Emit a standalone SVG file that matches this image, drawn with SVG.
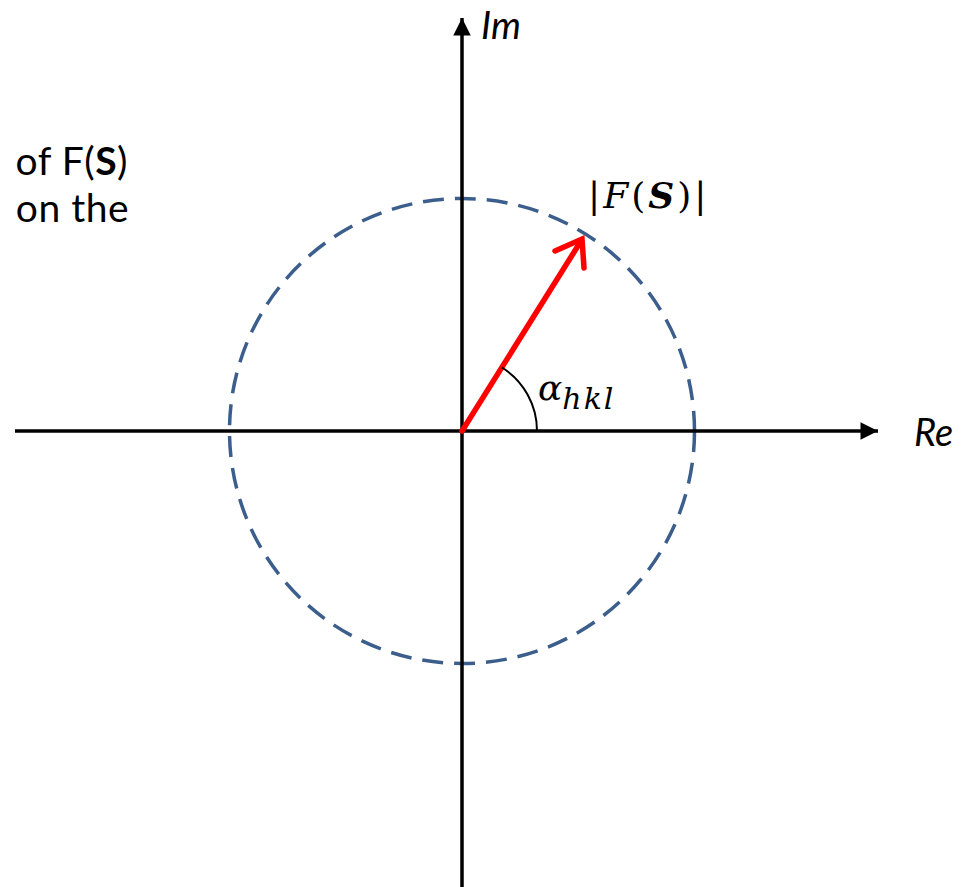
<svg xmlns="http://www.w3.org/2000/svg" width="967" height="887" viewBox="0 0 967 887">
<style>
.ax{stroke:#000;stroke-width:3.5;fill:none}
.lbl{font-family:Lato,"Open Sans","Liberation Sans",sans-serif;fill:#000}
.math{font-family:"DejaVu Serif","Liberation Serif",serif;fill:#000}
</style>
<defs>
<marker id="ah" viewBox="0 0 10 10" refX="10" refY="5" markerWidth="7" markerHeight="5" orient="auto" markerUnits="strokeWidth">
<path d="M0,0 L10,5 L0,10 z" fill="#000"/>
</marker>
</defs>
<rect width="967" height="887" fill="#fff"/>
<g id="circle">
<circle cx="462" cy="431" r="232.5" fill="none" stroke="#3C5E8C" stroke-width="3.5" stroke-dasharray="21 11"/>
</g>
<g id="connectors">
<line id="re-axis" class="ax" x1="15" y1="431" x2="878" y2="431" marker-end="url(#ah)"/>
<line id="im-axis" class="ax" x1="462" y1="887" x2="462" y2="18" marker-end="url(#ah)"/>
<line id="vector" x1="462" y1="431" x2="581" y2="241" stroke="#FF0000" stroke-width="5.5" stroke-linecap="round"/>
<polyline points="555,251 582,239 584,268" fill="none" stroke="#FF0000" stroke-width="5.5" stroke-linecap="round" stroke-linejoin="miter"/>
<path id="angle" d="M537,431 A75,75 0 0 0 502,367.5" fill="none" stroke="#000" stroke-width="2"/>
</g>
<g id="labels">
<text class="lbl" x="128" y="175" text-anchor="end" font-size="39" letter-spacing="0.5">of F(<tspan font-weight="bold">S</tspan>)</text>
<text class="lbl" x="129" y="222" text-anchor="end" font-size="39" letter-spacing="0.5">on the</text>
<text class="lbl" x="481" y="39" font-style="italic" font-size="38">Im</text>
<text class="lbl" x="914" y="446" font-style="italic" font-size="38">Re</text>
<text class="math" x="588" y="208" font-size="36" letter-spacing="3">|<tspan font-style="italic">F</tspan>(<tspan font-weight="bold" font-style="italic">S</tspan>)|</text>
<text class="math" x="538" y="400" font-size="36" font-style="italic">α<tspan font-size="30" dy="9" letter-spacing="2">hkl</tspan></text>
</g>
</svg>
